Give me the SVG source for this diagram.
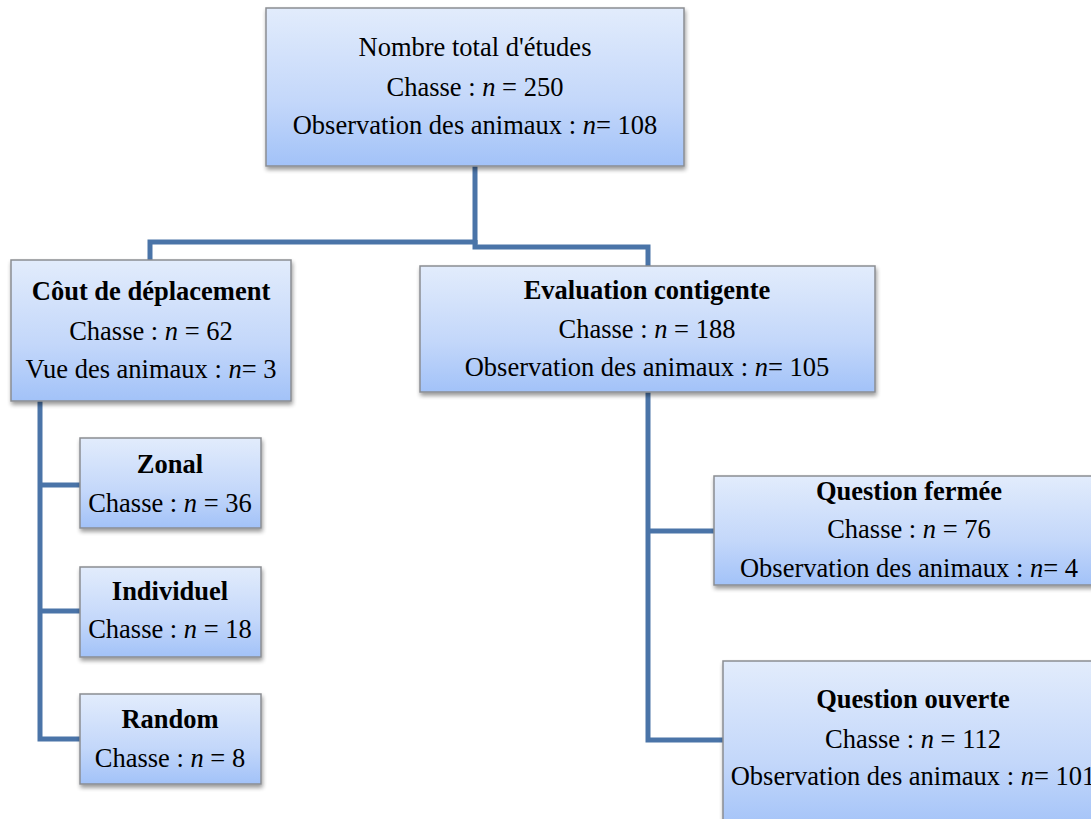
<svg xmlns="http://www.w3.org/2000/svg" width="1091" height="819" viewBox="0 0 1091 819">
<defs>
<linearGradient id="g" x1="0" y1="0" x2="0" y2="1">
<stop offset="0" stop-color="#e2ecfc"/>
<stop offset="0.6" stop-color="#c3d7fa"/>
<stop offset="1" stop-color="#a2c2f8"/>
</linearGradient>
<filter id="sh" x="-10%" y="-10%" width="130%" height="130%">
<feGaussianBlur in="SourceAlpha" stdDeviation="2"/>
<feOffset dx="1" dy="3"/>
<feComponentTransfer><feFuncA type="linear" slope="0.4"/></feComponentTransfer>
<feMerge><feMergeNode/><feMergeNode in="SourceGraphic"/></feMerge>
</filter>
</defs>
<style>
.box{fill:url(#g);stroke:#8a8d92;stroke-width:1.5;filter:url(#sh)}
.t{font-family:"Liberation Serif","Times New Roman",serif;font-size:26.5px;fill:#000;text-anchor:middle}
.b{font-weight:bold}
.i{font-style:italic}
.c{fill:none;stroke:#4a74a8;stroke-width:5}
</style>
<rect width="1091" height="819" fill="#fff"/>
<g id="connectors">
<polyline class="c" points="475,166 475,242 150,242 150,261"/>
<polyline class="c" points="475,240 475,247 648,247 648,267"/>
<polyline class="c" points="40,401 40,739 81,739"/>
<line class="c" x1="40" y1="485" x2="81" y2="485"/>
<line class="c" x1="40" y1="611" x2="81" y2="611"/>
<polyline class="c" points="648,392 648,740 724,740"/>
<line class="c" x1="648" y1="531" x2="715" y2="531"/>
</g>
<g id="total">
<rect class="box" x="266" y="8" width="418" height="158"/>
<text class="t" x="475" y="56">Nombre total d'études</text>
<text class="t" x="475" y="96">Chasse : <tspan class="i">n</tspan> = 250</text>
<text class="t" x="475" y="134">Observation des animaux : <tspan class="i">n</tspan>= 108</text>
</g>
<g id="cout">
<rect class="box" x="11" y="260" width="280" height="141"/>
<text class="t b" x="151" y="300">Côut de déplacement</text>
<text class="t" x="151" y="340">Chasse : <tspan class="i">n</tspan> = 62</text>
<text class="t" x="151" y="378">Vue des animaux : <tspan class="i">n</tspan>= 3</text>
</g>
<g id="zonal">
<rect class="box" x="80" y="438" width="181" height="90"/>
<text class="t b" x="170" y="473">Zonal</text>
<text class="t" x="170" y="512">Chasse : <tspan class="i">n</tspan> = 36</text>
</g>
<g id="individuel">
<rect class="box" x="80" y="567" width="181" height="90"/>
<text class="t b" x="170" y="600">Individuel</text>
<text class="t" x="170" y="638">Chasse : <tspan class="i">n</tspan> = 18</text>
</g>
<g id="random">
<rect class="box" x="80" y="694" width="181" height="90"/>
<text class="t b" x="170" y="728">Random</text>
<text class="t" x="170" y="767">Chasse : <tspan class="i">n</tspan> = 8</text>
</g>
<g id="evaluation">
<rect class="box" x="420" y="266" width="455" height="126"/>
<text class="t b" x="647" y="299">Evaluation contigente</text>
<text class="t" x="647" y="338">Chasse : <tspan class="i">n</tspan> = 188</text>
<text class="t" x="647" y="376">Observation des animaux : <tspan class="i">n</tspan>= 105</text>
</g>
<g id="fermee">
<rect class="box" x="714" y="476" width="390" height="109"/>
<text class="t b" x="909" y="500">Question fermée</text>
<text class="t" x="909" y="538">Chasse : <tspan class="i">n</tspan> = 76</text>
<text class="t" x="909" y="577">Observation des animaux : <tspan class="i">n</tspan>= 4</text>
</g>
<g id="ouverte">
<rect class="box" x="723" y="661" width="400" height="170"/>
<text class="t b" x="913" y="708">Question ouverte</text>
<text class="t" x="913" y="748">Chasse : <tspan class="i">n</tspan> = 112</text>
<text class="t" x="913" y="785">Observation des animaux : <tspan class="i">n</tspan>= 101</text>
</g>
</svg>
